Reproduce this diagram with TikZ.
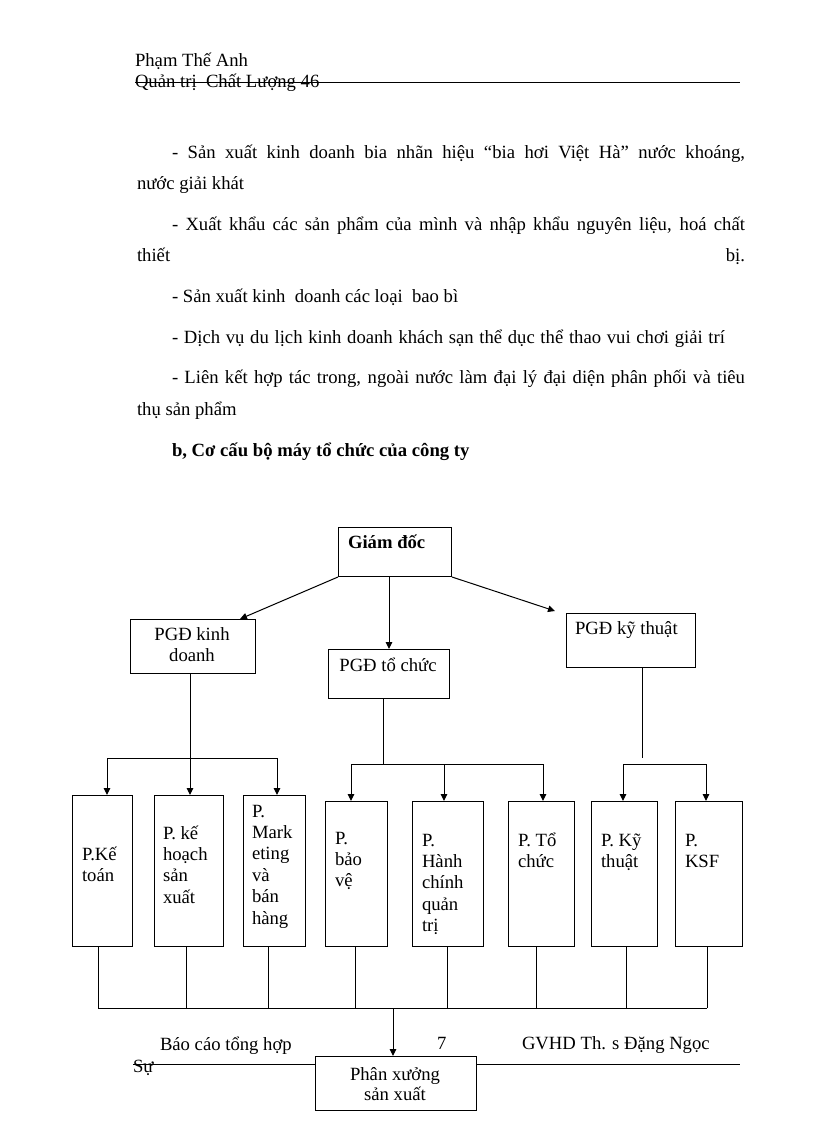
\documentclass[tikz,border=0pt]{standalone}
\usepackage{fontspec}
\setmainfont{Liberation Serif}
\usetikzlibrary{arrows.meta,calc}
\newcommand{\stkL}[1]{\begin{tabular}[t]{@{}l@{}}#1\end{tabular}}
\newcommand{\stkC}[1]{\begin{tabular}[t]{@{}c@{}}#1\end{tabular}}
\begin{document}
\begin{tikzpicture}[x=1pt,y=-1pt,
  txt/.style={inner sep=0pt, outer sep=0pt, anchor=base west, font={\fontsize{18.67}{21.4}\selectfont}},
  ctxt/.style={txt, anchor=base},
  box/.style={draw, line width=1pt, fill=white, inner sep=0pt, anchor=north west},
  conn/.style={line width=1pt},
  arr/.style={conn, -{Triangle[length=7pt,width=6.5pt]}}]
\fill[white] (0,0) rectangle (816,1123);
\useasboundingbox (0,0) rectangle (816,1123);

% header
\coordinate (hl) at (135,82);
\coordinate (hr) at (740,82);
\draw[line width=0.8pt] (hl) -- (hr);
\node[txt] (h1) at (135,67) {Phạm Thế Anh};
\node[txt] (h2) at (135,88) {Quản trị \ Chất Lượng 46};

% body text
\node[txt] (t1) at (172,159) {\makebox[573pt][s]{- Sản xuất kinh doanh bia nhãn hiệu “bia hơi Việt Hà” nước khoáng,}};
\node[txt] (t2) at (137,190) {nước giải khát};
\node[txt] (t3) at (172,230) {\makebox[573pt][s]{- Xuất khẩu các sản phẩm của mình và nhập khẩu nguyên liệu, hoá chất}};
\node[txt] (t4) at (137,261) {\makebox[608pt][s]{thiết\hfill bị.}};
\node[txt] (t5) at (172,302) {- Sản xuất kinh \ doanh các loại \ bao bì};
\node[txt] (t6) at (172,343) {\makebox[553pt][s]{- Dịch vụ du lịch kinh doanh khách sạn thể dục thể thao vui chơi giải trí}};
\node[txt] (t7) at (172,383) {\makebox[573pt][s]{- Liên kết hợp tác trong, ngoài nước làm đại lý đại diện phân phối và tiêu}};
\node[txt] (t8) at (137,415) {thụ sản phẩm};
\node[txt, font={\fontsize{18.67}{21.4}\selectfont\bfseries}] (t9) at (172,456) {b, Cơ cấu bộ máy tổ chức của công ty};

% level 1 and 2 boxes
\node[box, minimum width=113pt, minimum height=49pt] (gd) at (338,527) {};
\node[box, minimum width=125pt, minimum height=54pt] (pkd) at (130,619) {};
\node[box, minimum width=121pt, minimum height=49pt] (ptc) at (328,649) {};
\node[box, minimum width=129pt, minimum height=54pt] (pkt) at (566,613) {};

\node[txt, font={\fontsize{18.67}{21.4}\selectfont\bfseries}] (gdt) at (348,548) {Giám đốc};
\node[ctxt] (pkdt) at (192,640.5) {\stkC{PGĐ kinh\\doanh}};
\node[ctxt] (ptct) at (388,671) {PGĐ tổ chức};
\node[txt] (pktt) at (575,634) {PGĐ kỹ thuật};

% department boxes
\node[box, minimum width=60pt, minimum height=151pt] (b1) at (72,795) {};
\node[box, minimum width=69pt, minimum height=151pt] (b2) at (154,795) {};
\node[box, minimum width=62pt, minimum height=151pt] (b3) at (243,795) {};
\node[box, minimum width=62pt, minimum height=145pt] (b4) at (325,801) {};
\node[box, minimum width=71pt, minimum height=145pt] (b5) at (412,801) {};
\node[box, minimum width=66pt, minimum height=145pt] (b6) at (508,801) {};
\node[box, minimum width=66pt, minimum height=145pt] (b7) at (591,801) {};
\node[box, minimum width=67pt, minimum height=145pt] (b8) at (675,801) {};

\node[txt] (b1t) at (82,860) {\stkL{P.Kế\\toán}};
\node[txt] (b2t) at (163,839) {\stkL{P. kế\\hoạch\\sản\\xuất}};
\node[txt] (b3t) at (252,817) {\stkL{P.\\Mark\\eting\\và\\bán\\hàng}};
\node[txt] (b4t) at (335,844) {\stkL{P.\\bảo\\vệ}};
\node[txt] (b5t) at (422,846) {\stkL{P.\\Hành\\chính\\quản\\trị}};
\node[txt] (b6t) at (518,846) {\stkL{P. Tổ\\chức}};
\node[txt] (b7t) at (601,846) {\stkL{P. Kỹ\\thuật}};
\node[txt] (b8t) at (685,846) {\stkL{P.\\KSF}};

% connectors from Giam doc
\draw[arr] (gd.south west) -- ($(pkd.north west)+(110,0)$);
\draw[arr] ($(gd.south west)+(51,0)$) -- ($(ptc.north west)+(61,0)$);
\draw[arr] (gd.south east) -- ($(pkt.north west)+(-11,-2)$);

% PGD kinh doanh branch
\draw[arr] ($(pkd.south west)+(60,0)$) -- ($(b2.north west)+(36,0)$);
\coordinate (h1a) at ($(b1.north west)+(35,-37)$);
\coordinate (h3a) at ($(b3.north west)+(34,-37)$);
\draw[conn] (h1a) -- (h3a);
\draw[arr] (h1a) -- (h1a |- b1.north);
\draw[arr] (h3a) -- (h3a |- b3.north);

% PGD to chuc branch
\coordinate (v2) at ($(ptc.south west)+(55,0)$);
\coordinate (h4a) at ($(b4.north west)+(26,-37)$);
\coordinate (h5a) at ($(b5.north west)+(32,-37)$);
\coordinate (h6a) at ($(b6.north west)+(35,-37)$);
\draw[conn] (v2) -- (v2 |- h4a);
\draw[conn] (h4a) -- (h6a);
\draw[arr] (h4a) -- (h4a |- b4.north);
\draw[arr] (h5a) -- (h5a |- b5.north);
\draw[arr] (h6a) -- (h6a |- b6.north);

% PGD ky thuat branch
\coordinate (v3) at ($(pkt.south west)+(76,0)$);
\coordinate (v3e) at ($(v3)+(0,90)$);
\coordinate (h7a) at ($(b7.north west)+(32,-37)$);
\coordinate (h8a) at ($(b8.north west)+(31,-37)$);
\draw[conn] (v3) -- (v3e);
\draw[conn] (h7a) -- (h8a);
\draw[arr] (h7a) -- (h7a |- b7.north);
\draw[arr] (h8a) -- (h8a |- b8.north);

% bottom collector
\foreach \b/\d in {b1/26,b2/32,b3/25,b4/30,b5/35,b6/28,b7/35,b8/32}{
  \draw[conn] ($(\b.south west)+(\d,0)$) -- ++(0,61);
}
\coordinate (bl) at ($(b1.south west)+(26,61)$);
\coordinate (br) at ($(b8.south west)+(32,61)$);
\draw[conn] (bl) -- (br);

% footer
\coordinate (fl) at (133,1064);
\coordinate (fr) at (740,1064);
\draw[line width=0.8pt] (fl) -- (fr);
\node[txt] (f1) at (160,1050) {Báo cáo tổng hợp};
\node[txt] (f2) at (437,1049) {7};
\node[txt] (f3) at (522,1049) {GVHD Th. s Đặng Ngọc};
\node[txt] (f4) at (133,1072) {Sự};

% final box
\node[box, minimum width=161pt, minimum height=54pt] (px) at (315,1056) {};
\node[ctxt] (pxt) at (395,1080) {\stkC{Phân xưởng\\[-1.4pt]sản xuất}};
\coordinate (pa) at ($(px.north west)+(78,0)$);
\draw[arr] (pa |- bl) -- (pa);
\end{tikzpicture}
\end{document}
